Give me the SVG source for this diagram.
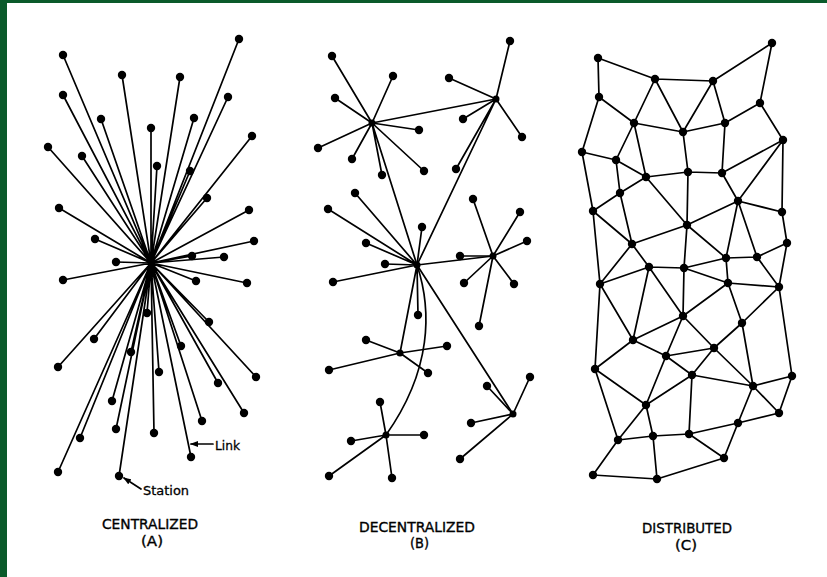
<svg xmlns="http://www.w3.org/2000/svg" width="827" height="577" viewBox="0 0 827 577">
<defs>
<style>
.e{stroke:#000;stroke-width:1.7;fill:none;stroke-linecap:round}
.n circle{fill:#000}
.t{font-family:"DejaVu Sans","Liberation Sans",sans-serif;font-size:14px;fill:#000;stroke:#000;stroke-width:0.35}
.s{font-family:"DejaVu Sans","Liberation Sans",sans-serif;font-size:13px;fill:#000;stroke:#000;stroke-width:0.3}
</style>
<marker id="ar" viewBox="0 0 8 6" refX="7" refY="3" markerWidth="8" markerHeight="6" markerUnits="userSpaceOnUse" orient="auto">
<path d="M0,0 L8,3 L0,6 z" fill="#000"/>
</marker>
</defs>
<rect x="0" y="0" width="827" height="577" fill="#fff"/>
<rect x="0" y="0" width="827" height="3" fill="#0a5a2a"/>
<rect x="0" y="0" width="7" height="577" fill="#0a5a2a"/>

<g id="connectors" class="e">
<!-- Panel A: centralized -->
<path d="M151,263L63,55M151,263L239,39M151,263L122,75M151,263L180,77M151,263L63,95M151,263L228,97M151,263L101,119M151,263L194,118M151,263L151,128M151,263L252,136M151,263L48,147M151,263L82,156M151,263L157,166M151,263L190,171M151,263L207,198M151,263L59,208M151,263L249,210M151,263L95,239M151,263L254,241M151,263L116,262M151,263L192,256M151,263L224,257M151,263L63,280M151,263L196,281M151,263L247,283M151,263L147,313M151,263L209,322M151,263L94,339M151,263L131,352M151,263L181,346M151,263L58,367M151,263L159,372M151,263L256,377M151,263L218,383M151,263L112,401M151,263L244,413M151,263L202,421M151,263L116,429M151,263L154,433M151,263L80,438M151,263L191,457M151,263L58,472M151,263L119,476"/>
<!-- Panel B: decentralized -->
<path d="M372,123L332,56M372,123L393,76M372,123L335,98M372,123L419,130M372,123L318,148M372,123L352,159M372,123L382,175M372,123L424,171M372,123L496,99M372,123L417,265"/>
<path d="M496,99L510,41M496,99L449,78M496,99L463,119M496,99L522,137M496,99L456,169M496,99L417,265"/>
<path d="M417,265L355,193M417,265L328,209M417,265L422,227M417,265L366,243M417,265L385,264M417,265L333,282M417,265L418,315M417,265L493,256M417,265L400,353M417,265L513,414"/>
<path d="M417,265C432,310 432,370 386,435"/>
<path d="M493,256L473,199M493,256L520,212M493,256L527,241M493,256L460,256M493,256L464,283M493,256L514,284M493,256L479,326"/>
<path d="M400,353L366,340M400,353L329,370M400,353L447,346M400,353L428,373"/>
<path d="M513,414L487,386M513,414L530,377M513,414L471,423M513,414L460,459"/>
<path d="M386,435L380,402M386,435L351,441M386,435L424,435M386,435L329,476M386,435L392,478"/>
<!-- Panel C: distributed -->
<path d="M598,58L655,79M598,58L599,97M655,79L713,81M713,81L772,43M772,43L760,103M655,79L634,123M655,79L683,132M713,81L683,132M713,81L725,123M760,103L725,123M760,103L783,140M599,97L634,123M599,97L582,152M634,123L683,132M683,132L725,123M634,123L616,160M634,123L646,177M683,132L688,172M725,123L722,173M783,140L722,173M783,140L738,201M783,140L782,212"/>
<path d="M582,152L616,160M582,152L593,211M616,160L646,177M616,160L620,193M646,177L688,172M688,172L722,173M646,177L620,193M646,177L687,225M688,172L687,225M722,173L738,201M620,193L593,211M620,193L632,244M738,201L687,225M738,201L782,212M738,201L726,258M738,201L757,257M782,212L787,243M593,211L632,244M593,211L600,284"/>
<path d="M687,225L632,244M687,225L684,268M687,225L726,258M632,244L649,267M632,244L600,284M726,258L757,257M787,243L757,257M787,243L779,287M757,257L779,287M649,267L684,268M684,268L726,258M726,258L728,283M728,283L779,287M649,267L600,284M649,267L633,340M649,267L683,316M684,268L683,316M684,268L728,283M728,283L683,316M728,283L742,323M779,287L792,376M779,287L742,323M742,323L714,348"/>
<path d="M600,284L633,340M600,284L595,369M683,316L633,340M683,316L666,356M683,316L714,348M742,323L753,386M633,340L666,356M633,340L595,369M714,348L666,356M714,348L692,375M714,348L753,386M666,356L692,375M666,356L646,405M595,369L646,405M595,369L618,440M692,375L646,405M692,375L753,386M692,375L689,434M792,376L753,386M792,376L779,413M753,386L779,413M753,386L738,423"/>
<path d="M646,405L618,440M646,405L653,436M779,413L738,423M738,423L689,434M738,423L724,458M618,440L653,436M653,436L689,434M689,434L724,458M618,440L593,475M653,436L657,479M593,475L657,479M657,479L724,458"/>
<!-- annotation arrows -->
<path d="M213,444L191,444" marker-end="url(#ar)"/>
<path d="M141,489L124,478" marker-end="url(#ar)"/>
</g>

<g id="panelA" class="n">
<g id="a-hub"><circle cx="151" cy="263" r="3"/></g>
<g id="a1"><circle cx="63" cy="55" r="4.2"/></g>
<g id="a2"><circle cx="239" cy="39" r="4.2"/></g>
<g id="a3"><circle cx="122" cy="75" r="4.2"/></g>
<g id="a4"><circle cx="180" cy="77" r="4.2"/></g>
<g id="a5"><circle cx="63" cy="95" r="4.2"/></g>
<g id="a6"><circle cx="228" cy="97" r="4.2"/></g>
<g id="a7"><circle cx="101" cy="119" r="4.2"/></g>
<g id="a8"><circle cx="194" cy="118" r="4.2"/></g>
<g id="a9"><circle cx="151" cy="128" r="4.2"/></g>
<g id="a10"><circle cx="252" cy="136" r="4.2"/></g>
<g id="a11"><circle cx="48" cy="147" r="4.2"/></g>
<g id="a12"><circle cx="82" cy="156" r="4.2"/></g>
<g id="a13"><circle cx="157" cy="166" r="4.2"/></g>
<g id="a14"><circle cx="190" cy="171" r="4.2"/></g>
<g id="a15"><circle cx="207" cy="198" r="4.2"/></g>
<g id="a16"><circle cx="59" cy="208" r="4.2"/></g>
<g id="a17"><circle cx="249" cy="210" r="4.2"/></g>
<g id="a18"><circle cx="95" cy="239" r="4.2"/></g>
<g id="a19"><circle cx="254" cy="241" r="4.2"/></g>
<g id="a20"><circle cx="116" cy="262" r="4.2"/></g>
<g id="a21"><circle cx="192" cy="256" r="4.2"/></g>
<g id="a22"><circle cx="224" cy="257" r="4.2"/></g>
<g id="a23"><circle cx="63" cy="280" r="4.2"/></g>
<g id="a24"><circle cx="196" cy="281" r="4.2"/></g>
<g id="a25"><circle cx="247" cy="283" r="4.2"/></g>
<g id="a26"><circle cx="147" cy="313" r="4.2"/></g>
<g id="a27"><circle cx="209" cy="322" r="4.2"/></g>
<g id="a28"><circle cx="94" cy="339" r="4.2"/></g>
<g id="a29"><circle cx="131" cy="352" r="4.2"/></g>
<g id="a30"><circle cx="181" cy="346" r="4.2"/></g>
<g id="a31"><circle cx="58" cy="367" r="4.2"/></g>
<g id="a32"><circle cx="159" cy="372" r="4.2"/></g>
<g id="a33"><circle cx="256" cy="377" r="4.2"/></g>
<g id="a34"><circle cx="218" cy="383" r="4.2"/></g>
<g id="a35"><circle cx="112" cy="401" r="4.2"/></g>
<g id="a36"><circle cx="244" cy="413" r="4.2"/></g>
<g id="a37"><circle cx="202" cy="421" r="4.2"/></g>
<g id="a38"><circle cx="116" cy="429" r="4.2"/></g>
<g id="a39"><circle cx="154" cy="433" r="4.2"/></g>
<g id="a40"><circle cx="80" cy="438" r="4.2"/></g>
<g id="a41"><circle cx="191" cy="457" r="4.2"/></g>
<g id="a42"><circle cx="58" cy="472" r="4.2"/></g>
<g id="a43"><circle cx="119" cy="476" r="4.2"/></g>
</g>

<g id="panelB" class="n">
<g id="b-h1"><circle cx="372" cy="123" r="3.5"/></g>
<g id="b1"><circle cx="332" cy="56" r="4.2"/></g>
<g id="b2"><circle cx="393" cy="76" r="4.2"/></g>
<g id="b3"><circle cx="335" cy="98" r="4.2"/></g>
<g id="b4"><circle cx="419" cy="130" r="4.2"/></g>
<g id="b5"><circle cx="318" cy="148" r="4.2"/></g>
<g id="b6"><circle cx="352" cy="159" r="4.2"/></g>
<g id="b7"><circle cx="382" cy="175" r="4.2"/></g>
<g id="b8"><circle cx="424" cy="171" r="4.2"/></g>
<g id="b-h2"><circle cx="496" cy="99" r="3.5"/></g>
<g id="b9"><circle cx="510" cy="41" r="4.2"/></g>
<g id="b10"><circle cx="449" cy="78" r="4.2"/></g>
<g id="b11"><circle cx="463" cy="119" r="4.2"/></g>
<g id="b12"><circle cx="522" cy="137" r="4.2"/></g>
<g id="b13"><circle cx="456" cy="169" r="4.2"/></g>
<g id="b-h3"><circle cx="417" cy="265" r="3.5"/></g>
<g id="b14"><circle cx="355" cy="193" r="4.2"/></g>
<g id="b15"><circle cx="328" cy="209" r="4.2"/></g>
<g id="b16"><circle cx="422" cy="227" r="4.2"/></g>
<g id="b17"><circle cx="366" cy="243" r="4.2"/></g>
<g id="b18"><circle cx="385" cy="264" r="4.2"/></g>
<g id="b19"><circle cx="333" cy="282" r="4.2"/></g>
<g id="b20"><circle cx="418" cy="315" r="4.2"/></g>
<g id="b-h4"><circle cx="493" cy="256" r="3.5"/></g>
<g id="b21"><circle cx="473" cy="199" r="4.2"/></g>
<g id="b22"><circle cx="520" cy="212" r="4.2"/></g>
<g id="b23"><circle cx="527" cy="241" r="4.2"/></g>
<g id="b24"><circle cx="460" cy="256" r="4.2"/></g>
<g id="b25"><circle cx="464" cy="283" r="4.2"/></g>
<g id="b26"><circle cx="514" cy="284" r="4.2"/></g>
<g id="b27"><circle cx="479" cy="326" r="4.2"/></g>
<g id="b-h5"><circle cx="400" cy="353" r="3.5"/></g>
<g id="b28"><circle cx="366" cy="340" r="4.2"/></g>
<g id="b29"><circle cx="329" cy="370" r="4.2"/></g>
<g id="b30"><circle cx="447" cy="346" r="4.2"/></g>
<g id="b31"><circle cx="428" cy="373" r="4.2"/></g>
<g id="b-h6"><circle cx="513" cy="414" r="3.5"/></g>
<g id="b32"><circle cx="487" cy="386" r="4.2"/></g>
<g id="b33"><circle cx="530" cy="377" r="4.2"/></g>
<g id="b34"><circle cx="471" cy="423" r="4.2"/></g>
<g id="b35"><circle cx="460" cy="459" r="4.2"/></g>
<g id="b-h7"><circle cx="386" cy="435" r="3.5"/></g>
<g id="b36"><circle cx="380" cy="402" r="4.2"/></g>
<g id="b37"><circle cx="351" cy="441" r="4.2"/></g>
<g id="b38"><circle cx="424" cy="435" r="4.2"/></g>
<g id="b39"><circle cx="329" cy="476" r="4.2"/></g>
<g id="b40"><circle cx="392" cy="478" r="4.2"/></g>
</g>

<g id="panelC" class="n">
<g id="c1"><circle cx="598" cy="58" r="4.2"/></g>
<g id="c2"><circle cx="655" cy="79" r="4.2"/></g>
<g id="c3"><circle cx="713" cy="81" r="4.2"/></g>
<g id="c4"><circle cx="772" cy="43" r="4.2"/></g>
<g id="c5"><circle cx="599" cy="97" r="4.2"/></g>
<g id="c6"><circle cx="760" cy="103" r="4.2"/></g>
<g id="c7"><circle cx="634" cy="123" r="4.2"/></g>
<g id="c8"><circle cx="683" cy="132" r="4.2"/></g>
<g id="c9"><circle cx="725" cy="123" r="4.2"/></g>
<g id="c10"><circle cx="582" cy="152" r="4.2"/></g>
<g id="c11"><circle cx="783" cy="140" r="4.2"/></g>
<g id="c12"><circle cx="616" cy="160" r="4.2"/></g>
<g id="c13"><circle cx="646" cy="177" r="4.2"/></g>
<g id="c14"><circle cx="688" cy="172" r="4.2"/></g>
<g id="c15"><circle cx="722" cy="173" r="4.2"/></g>
<g id="c16"><circle cx="620" cy="193" r="4.2"/></g>
<g id="c17"><circle cx="738" cy="201" r="4.2"/></g>
<g id="c18"><circle cx="593" cy="211" r="4.2"/></g>
<g id="c19"><circle cx="782" cy="212" r="4.2"/></g>
<g id="c20"><circle cx="687" cy="225" r="4.2"/></g>
<g id="c21"><circle cx="632" cy="244" r="4.2"/></g>
<g id="c22"><circle cx="787" cy="243" r="4.2"/></g>
<g id="c23"><circle cx="726" cy="258" r="4.2"/></g>
<g id="c24"><circle cx="757" cy="257" r="4.2"/></g>
<g id="c25"><circle cx="649" cy="267" r="4.2"/></g>
<g id="c26"><circle cx="684" cy="268" r="4.2"/></g>
<g id="c27"><circle cx="600" cy="284" r="4.2"/></g>
<g id="c28"><circle cx="728" cy="283" r="4.2"/></g>
<g id="c29"><circle cx="779" cy="287" r="4.2"/></g>
<g id="c30"><circle cx="683" cy="316" r="4.2"/></g>
<g id="c31"><circle cx="742" cy="323" r="4.2"/></g>
<g id="c32"><circle cx="633" cy="340" r="4.2"/></g>
<g id="c33"><circle cx="714" cy="348" r="4.2"/></g>
<g id="c34"><circle cx="666" cy="356" r="4.2"/></g>
<g id="c35"><circle cx="595" cy="369" r="4.2"/></g>
<g id="c36"><circle cx="692" cy="375" r="4.2"/></g>
<g id="c37"><circle cx="792" cy="376" r="4.2"/></g>
<g id="c38"><circle cx="753" cy="386" r="4.2"/></g>
<g id="c39"><circle cx="646" cy="405" r="4.2"/></g>
<g id="c40"><circle cx="779" cy="413" r="4.2"/></g>
<g id="c41"><circle cx="738" cy="423" r="4.2"/></g>
<g id="c42"><circle cx="618" cy="440" r="4.2"/></g>
<g id="c43"><circle cx="653" cy="436" r="4.2"/></g>
<g id="c44"><circle cx="689" cy="434" r="4.2"/></g>
<g id="c45"><circle cx="724" cy="458" r="4.2"/></g>
<g id="c46"><circle cx="593" cy="475" r="4.2"/></g>
<g id="c47"><circle cx="657" cy="479" r="4.2"/></g>
</g>

<g id="labels">
<text class="s" x="215" y="450" textLength="25" lengthAdjust="spacingAndGlyphs">Link</text>
<text class="s" x="143" y="495" textLength="46" lengthAdjust="spacingAndGlyphs">Station</text>
<text class="t" x="102" y="529" textLength="96" lengthAdjust="spacingAndGlyphs">CENTRALIZED</text>
<text class="t" x="141" y="546" textLength="22" lengthAdjust="spacingAndGlyphs">(A)</text>
<text class="t" x="359" y="532" textLength="116" lengthAdjust="spacingAndGlyphs">DECENTRALIZED</text>
<text class="t" x="410" y="548" textLength="19" lengthAdjust="spacingAndGlyphs">(B)</text>
<text class="t" x="642" y="533" textLength="90" lengthAdjust="spacingAndGlyphs">DISTRIBUTED</text>
<text class="t" x="675" y="550" textLength="22" lengthAdjust="spacingAndGlyphs">(C)</text>
</g>
</svg>
